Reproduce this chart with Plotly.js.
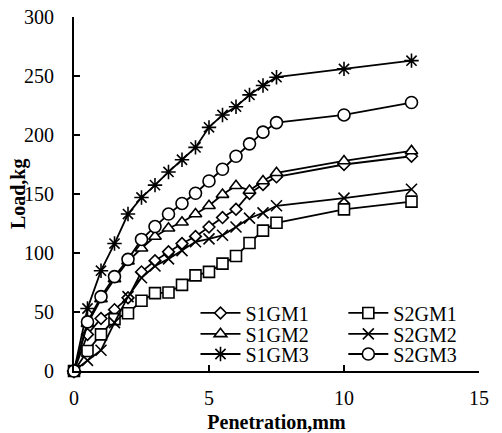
<!DOCTYPE html>
<html>
<head>
<meta charset="utf-8">
<script src="https://cdn.plot.ly/plotly-3.0.1.min.js"></script>
<style>html,body{margin:0;padding:0;background:#fff;}#chart{width:502px;height:433px;}</style>
</head>
<body>
<div id="chart"></div>
<script>
var penetration = [0, 0.5, 1, 1.5, 2, 2.5, 3, 3.5, 4, 4.5, 5, 5.5, 6, 6.5, 7, 7.5, 10, 12.5];
var S1GM1 = [0, 31, 44.5, 52, 62, 84, 93.5, 101, 108, 114, 122, 130, 137, 150.5, 158, 164.5, 175, 182];
var S2GM1 = [0, 17, 31, 44, 49, 59.5, 66, 66.5, 73, 81, 84, 91, 97.5, 108.5, 119, 125.6, 137, 143.5];
var S1GM2 = [0, 40, 61, 78, 93, 104, 114, 121, 126, 133, 140, 149.5, 157, 153, 161, 168, 178, 186.5];
var S2GM2 = [0, 9, 17.6, 41, 63, 79, 89, 95, 102, 109.5, 112, 115, 122, 129.5, 134, 140, 146.5, 154];
var S1GM3 = [0, 53, 85, 108, 133, 147, 157.5, 168.7, 179, 189.5, 206.5, 217, 224, 234, 242, 249, 256, 263];
var S2GM3 = [0, 41.6, 63, 80, 94.6, 111.5, 122.4, 133, 142, 150.6, 161, 171, 182, 192.5, 202.4, 210.5, 217, 227.5];

var seriesNames = ['S1GM1', 'S2GM1', 'S1GM2', 'S2GM2', 'S1GM3', 'S2GM3'];
var seriesData = [S1GM1, S2GM1, S1GM2, S2GM2, S1GM3, S2GM3];
var symbols = ['diamond', 'square', 'triangle-up', 'x-thin-open', 'asterisk-open', 'circle'];
var sizes = [9, 11, 11, 11, 12, 12];
var xTitle = 'Penetration,mm';
var yTitle = 'Load,kg';

var serif = 'Liberation Serif, Times New Roman, serif';
var legendFont = {family: serif, size: 20, color: '#000'};
var colX = [0.3, 0.665];
var rowY = [0.164, 0.105, 0.048];

var data = [];
var layoutLegends = {};
seriesNames.forEach(function (n, i) {
  var open = symbols[i].indexOf('-open') >= 0;
  var key = i === 0 ? 'legend' : 'legend' + (i + 1);
  data.push({
    x: penetration, y: seriesData[i], name: n, type: 'scatter', mode: 'lines+markers',
    legend: key,
    line: {color: '#000', width: 1.8},
    marker: {symbol: symbols[i], size: sizes[i], color: open ? '#000' : '#fff',
             line: {color: '#000', width: 1.6}},
    cliponaxis: false
  });
  layoutLegends[key] = {
    x: colX[i % 2], y: rowY[Math.floor(i / 2)], xanchor: 'left', yanchor: 'middle',
    bgcolor: 'rgba(0,0,0,0)', font: legendFont, itemwidth: 40, borderwidth: 0
  };
});

var layout = {
  width: 502, height: 433,
  margin: {l: 74, r: 23, t: 17, b: 62},
  paper_bgcolor: '#fff', plot_bgcolor: '#fff',
  font: {family: serif, size: 20, color: '#000'},
  showlegend: true,
  xaxis: {
    range: [0, 15], tickvals: [0, 5, 10, 15], ticks: 'inside', ticklen: 6, tickwidth: 2, tickcolor: '#000',
    showline: true, linecolor: '#000', linewidth: 2, showgrid: false, zeroline: false,
    tickfont: {family: serif, size: 20, color: '#000'}, ticklabelstandoff: 8,
    title: {text: '<b>' + xTitle + '</b>', font: {family: serif, size: 20, color: '#000'}}
  },
  yaxis: {
    range: [0, 300], tickvals: [0, 50, 100, 150, 200, 250, 300], ticks: 'inside', ticklen: 6, tickwidth: 2, tickcolor: '#000',
    showline: true, linecolor: '#000', linewidth: 2, showgrid: false, zeroline: false,
    tickfont: {family: serif, size: 20, color: '#000'}, ticklabelstandoff: 14,
    title: {text: ''}
  },
  annotations: [{
    text: '<b>' + yTitle + '</b>', xref: 'paper', yref: 'paper', x: -0.138, y: 0.5,
    xanchor: 'center', yanchor: 'middle', textangle: -90, showarrow: false,
    font: {family: serif, size: 20, color: '#000'}
  }]
};
Object.keys(layoutLegends).forEach(function (k) { layout[k] = layoutLegends[k]; });
Plotly.newPlot('chart', data, layout, {displayModeBar: false, staticPlot: true});
</script>
</body>
</html>
